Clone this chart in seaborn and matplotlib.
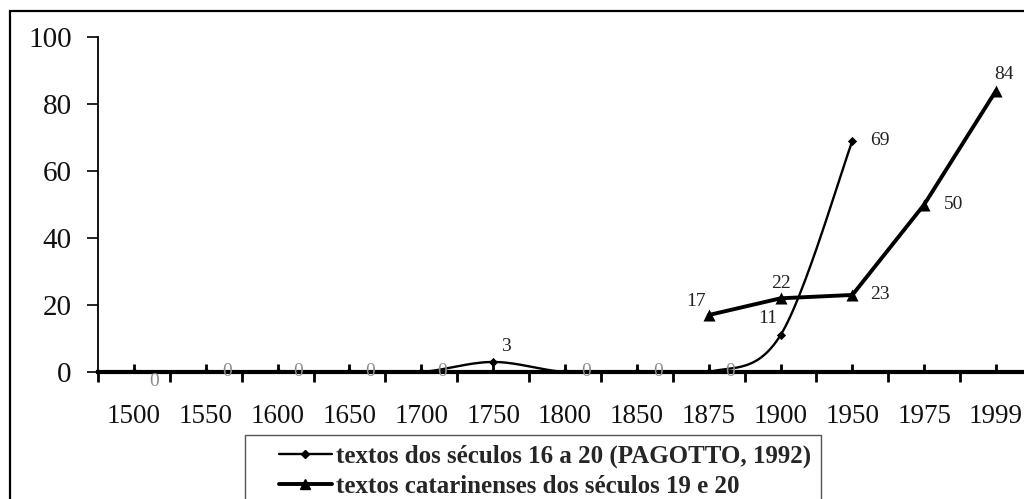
import numpy as np
import pandas as pd
import matplotlib
matplotlib.use("Agg")
import matplotlib.pyplot as plt
from matplotlib.patches import Rectangle
from matplotlib.ticker import FixedLocator, NullFormatter
import seaborn as sns

# Periods on the category axis
periods = ["1500", "1550", "1600", "1650", "1700", "1750", "1800",
           "1850", "1875", "1900", "1950", "1975", "1999"]

# Series 1: texts from the 16th to 20th centuries (PAGOTTO, 1992)
pagotto_periods = ["1500", "1550", "1600", "1650", "1700", "1750",
                   "1800", "1850", "1875", "1900", "1950"]
pagotto_values = [0, 0, 0, 0, 0, 3, 0, 0, 0, 11, 69]

# Series 2: texts from Santa Catarina, 19th and 20th centuries
catarina_periods = ["1875", "1900", "1950", "1975", "1999"]
catarina_values = [17, 22, 23, 50, 84]

label1 = "textos dos séculos 16 a 20 (PAGOTTO, 1992)"
label2 = "textos catarinenses dos séculos 19 e 20"

sns.set_theme(style="white")
plt.rcParams["font.family"] = ["Liberation Serif", "DejaVu Serif"]

W, H = 1024, 499
fig = plt.figure(figsize=(W / 100, H / 100), dpi=100)
fig.patch.set_facecolor("white")

# axes placed in pixel terms; the category axis runs past the right edge
x0, x1 = 98, 1032
y0, y1 = 372, 37
ax = fig.add_axes([x0 / W, (H - y0) / H, (x1 - x0) / W, (y0 - y1) / H])
ax.set_facecolor("white")

pos = {p: i for i, p in enumerate(periods)}
df1 = pd.DataFrame({"x": [pos[p] for p in pagotto_periods], "y": pagotto_values})
df2 = pd.DataFrame({"x": [pos[p] for p in catarina_periods], "y": catarina_values})


def smooth(xs, ys, n=30):
    """Catmull-Rom style smoothing through every point (as in office charts)."""
    xs = np.asarray(xs, float)
    ys = np.asarray(ys, float)
    px = np.concatenate([[xs[0]], xs, [xs[-1]]])
    py = np.concatenate([[ys[0]], ys, [ys[-1]]])
    out_x, out_y = [], []
    t = np.linspace(0, 1, n)
    for i in range(1, len(px) - 2):
        p0, p1, p2, p3 = [np.array([px[j], py[j]]) for j in (i - 1, i, i + 1, i + 2)]
        c1 = p1 + (p2 - p0) / 6.0
        c2 = p2 - (p3 - p1) / 6.0
        b = ((1 - t) ** 3)[:, None] * p1 + (3 * (1 - t) ** 2 * t)[:, None] * c1 \
            + (3 * (1 - t) * t ** 2)[:, None] * c2 + (t ** 3)[:, None] * p2
        out_x.extend(b[:, 0])
        out_y.extend(b[:, 1])
    return np.array(out_x), np.array(out_y)


sx, sy = smooth(df1["x"], df1["y"])
curve = pd.DataFrame({"x": sx, "y": sy})
sns.lineplot(data=curve, x="x", y="y", ax=ax, color="black", linewidth=1.7,
             sort=False, estimator=None, zorder=3)
sns.scatterplot(data=df1, x="x", y="y", ax=ax, marker="D", s=22, color="black",
                edgecolor="black", linewidth=0, zorder=4)

sns.lineplot(data=df2, x="x", y="y", ax=ax, color="black", linewidth=2.8,
             estimator=None, zorder=5)
sns.scatterplot(data=df2, x="x", y="y", ax=ax, marker="^", s=75, color="black",
                edgecolor="black", linewidth=0, zorder=6)

ax.set_xlim(-0.5, len(periods) - 0.5)
ax.set_ylim(0, 100)
ax.set_xlabel("")
ax.set_ylabel("")

# y axis
ax.set_yticks([0, 20, 40, 60, 80, 100])
ax.tick_params(axis="y", direction="out", length=8, width=1.2, color="black",
               labelsize=21, pad=11, left=True, labelcolor="#111111")

# x axis: labels at category centres, marks at category boundaries
ax.xaxis.set_major_locator(FixedLocator(np.arange(len(periods)) - 0.5))
ax.xaxis.set_major_formatter(NullFormatter())
ax.xaxis.set_minor_locator(FixedLocator(np.arange(len(periods))))
ax.set_xticklabels(periods, minor=True)
ax.tick_params(axis="x", which="major", direction="out", length=7, width=2,
               color="black", bottom=True)
ax.tick_params(axis="x", which="minor", direction="in", length=6, width=2,
               color="black", labelsize=19.5, pad=23, bottom=True,
               labelcolor="#111111")

for side in ("top", "right"):
    ax.spines[side].set_visible(False)
ax.spines["left"].set_color("black")
ax.spines["left"].set_linewidth(1.3)
ax.spines["bottom"].set_color("black")
ax.spines["bottom"].set_linewidth(3)
ax.spines["bottom"].set_zorder(2.5)

# value labels
lab_kw = dict(textcoords="offset pixels", fontsize=14, ha="center",
              va="center", zorder=7)
offs1 = {0: (20, -9), 5: (13, 15), 9: (-13, 17), 10: (27, 0)}
for xi, yi in zip(df1["x"], df1["y"]):
    off = offs1.get(xi, (21, 0))
    col = "#8c8c8c" if yi == 0 else "#222222"
    ax.annotate(f"{yi}", (xi, yi), xytext=off, color=col, **lab_kw)

offs2 = {8: (-13, 14), 9: (0, 15), 10: (28, 0), 11: (29, 0), 12: (8, 16)}
for xi, yi in zip(df2["x"], df2["y"]):
    ax.annotate(f"{yi}", (xi, yi), xytext=offs2[xi], color="#222222", **lab_kw)

# outer chart frame
fig.patches.append(Rectangle((10 / W, -0.1), 1.2, 1.1 - 11 / H, transform=fig.transFigure,
                             fill=False, edgecolor="black", linewidth=1.6, zorder=0))

# legend box and entries
fig.patches.append(Rectangle((245 / W, -0.1), (821 - 245) / W, 0.1 + (H - 435) / H,
                             transform=fig.transFigure, facecolor="white",
                             edgecolor="#555555", linewidth=1.0, zorder=1))
h1 = plt.Line2D([], [], color="black", linewidth=1.7, marker="D", markersize=4)
h2 = plt.Line2D([], [], color="black", linewidth=2.8, marker="^", markersize=7)
leg = fig.legend([h1, h2], [label1, label2], loc="upper left",
                 bbox_to_anchor=(279 / W, (H - 445) / H), frameon=False,
                 prop={"weight": "bold", "size": 18}, handlelength=2.1,
                 handletextpad=0.2, borderpad=0, borderaxespad=0,
                 labelspacing=0.26)
leg.set_zorder(3)

fig.savefig("out.png", dpi=100, facecolor="white")
